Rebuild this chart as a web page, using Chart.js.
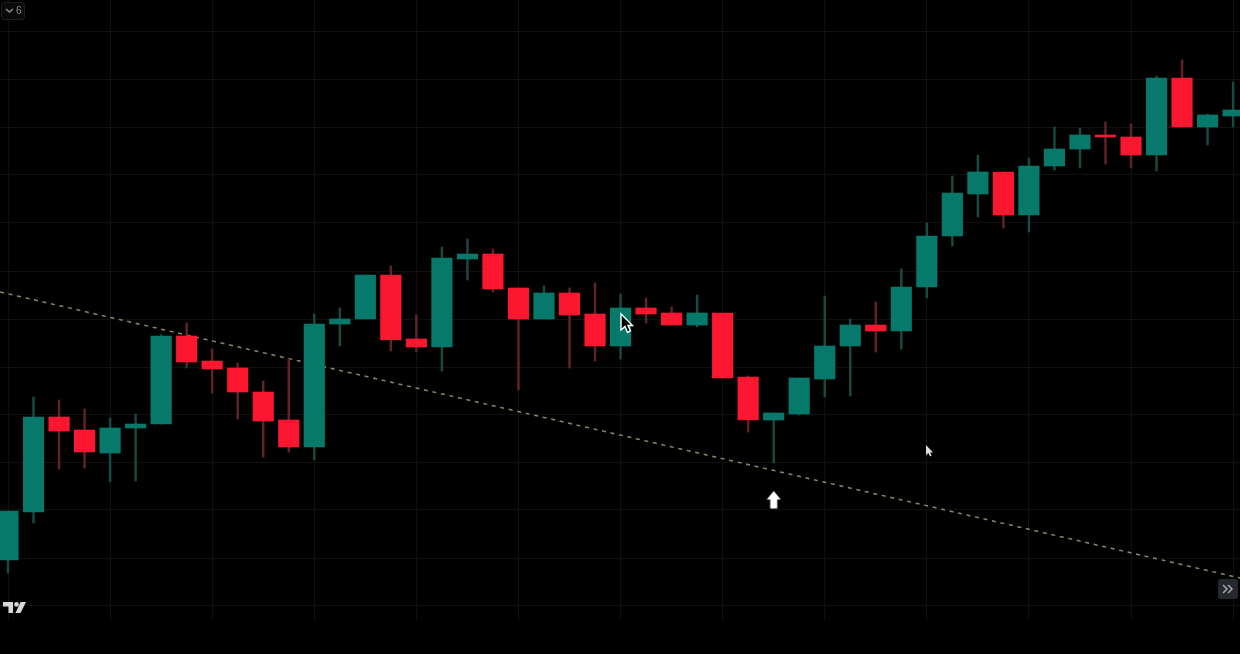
<!DOCTYPE html>
<html>
<head>
<meta charset="utf-8">
<title>Candles</title>
<script src="https://cdn.jsdelivr.net/npm/chart.js@4"></script>
<style>
  html, body { margin: 0; padding: 0; background: #000; width: 1240px; height: 654px; overflow: hidden; }
  #wrap { position: absolute; left: 0; top: 0; width: 1240px; height: 620px; }
  #myChart { display: block; }
  #badge {
    position: absolute; left: 1px; top: 2px; width: 22px; height: 16px; border: 1px solid #1b1d1f;
    border-radius: 3px; color: #8a8d90; font: 10px "Liberation Sans", sans-serif; line-height: 16px; background: #0a0a0b;
  }
  #badge span { position: absolute; left: 14px; top: 0; }
  #badge svg { position: absolute; left: 3px; top: 5px; }
  #more { position: absolute; left: 1218px; top: 579px; width: 20px; height: 20px; border-radius: 3px; background: #25282d; }
  .over { position: absolute; pointer-events: none; }
</style>
</head>
<body>
<div id="wrap"><canvas id="myChart" width="1240" height="620"></canvas></div>

<div id="badge">
  <svg width="9" height="6"><path d="M1 1 L4.5 4 L8 1" stroke="#8a8d90" stroke-width="1.6" fill="none"/></svg>
  <span>6</span>
</div>
<div id="more">
  <svg width="20" height="20"><path d="M5 6 L9 10 L5 14 M10 6 L14 10 L10 14" stroke="#a4a7ab" stroke-width="1.5" fill="none"/></svg>
</div>

<!-- tradingview logo -->
<svg class="over" style="left:2px;top:601px" width="25" height="13">
  <path d="M1 1 H11 V12 H6.5 V5.5 H1 Z" fill="#d8d8d8"/>
  <circle cx="14.5" cy="3.4" r="2.3" fill="#d8d8d8"/>
  <path d="M18.5 1 H24 L18.5 12 H13.5 Z" fill="#d8d8d8"/>
</svg>
<!-- mouse cursors -->
<svg class="over" style="left:619px;top:312px" width="16" height="24">
  <path d="M2 2 V18 L6 14.5 L8.5 20.5 L11.5 19 L9 13.5 H13.5 Z" fill="#000" stroke="#fff" stroke-width="1.4"/>
</svg>
<svg class="over" style="left:924px;top:444px" width="11" height="14">
  <path d="M2 1 V11 L4.5 9 L6 12.5 L7.5 11.5 L6.3 8.5 H9 Z" fill="#ddd"/>
</svg>

<script>
// prices, one entry per candle
var opens  = [94,142,237,224,201,226,230,318,293,286,262,234,207,330,335,379,315,307,395,400,366,335,361,340,308,346,341,329,341,277,234,240,275,308,329,323,367,418,460,482,439,488,505,519,517,499,576,527,538];
var closes = [143,237,223,202,226,230,318,292,285,262,233,207,330,335,379,314,307,396,400,365,335,361,339,308,346,340,329,341,276,234,241,276,308,329,323,367,418,461,482,439,488,505,519,517,499,576,527,539,544];
var highs  = [143,257,254,245,236,240,319,331,305,291,273,295,340,346,379,388,339,407,415,405,366,368,366,371,360,356,347,359,341,278,241,276,358,335,352,385,431,478,499,482,496,527,526,532,530,578,594,540,572];
var lows   = [81,131,185,186,172,173,230,286,261,235,197,202,194,308,335,303,302,283,374,362,264,335,286,293,295,331,329,327,276,222,191,239,257,258,302,305,356,408,437,426,422,484,486,490,486,483,527,509,527];

// dashed trend line, two ends
var trendX = [-0.31, 48.27];
var trendY = [362, 76];

// horizontal grid prices
var gridPrices = [49,96,144,192,240,287,335,383,431,479,527,575,623];

// white arrow under candle 30
var arrowX = [30];
var arrowY = [154];

var upColor = "#07796a";
var downColor = "#fb1730";
var upWick = "#174a43";
var downWick = "#622328";

var bodies = [];
var wicks = [];
var bodyColors = [];
var wickColors = [];
var i;
for (i = 0; i < opens.length; i++) {
  bodies.push({x: i, y: [opens[i], closes[i]]});
  wicks.push({x: i, y: [lows[i], highs[i]]});
  bodyColors.push(closes[i] >= opens[i] ? upColor : downColor);
  wickColors.push(closes[i] >= opens[i] ? upWick : downWick);
}

var trend = [];
for (i = 0; i < trendX.length; i++) {
  trend.push({x: trendX[i], y: trendY[i]});
}

var arrows = [];
for (i = 0; i < arrowX.length; i++) {
  arrows.push({x: arrowX[i], y: arrowY[i]});
}

// arrow picture for the point style
var arrowImg = document.createElement("canvas");
arrowImg.width = 16;
arrowImg.height = 18;
var a = arrowImg.getContext("2d");
a.fillStyle = "#fff";
a.beginPath();
a.moveTo(8, 0); a.lineTo(15, 8.5); a.lineTo(11.5, 8.5); a.lineTo(11.5, 17.5);
a.lineTo(4.5, 17.5); a.lineTo(4.5, 8.5); a.lineTo(1, 8.5);
a.closePath();
a.fill();

var ctx = document.getElementById("myChart");
var myChart = new Chart(ctx, {
  data: {
    datasets: [
      {
        type: "bar", label: "body", data: bodies, order: 1, grouped: false,
        backgroundColor: bodyColors, barThickness: 20.5, borderWidth: 0, borderSkipped: false
      },
      {
        type: "bar", label: "wick", data: wicks, order: 2, grouped: false,
        backgroundColor: wickColors, barThickness: 1.8, borderWidth: 0, borderSkipped: false
      },
      {
        type: "line", label: "trend", data: trend, order: 3,
        borderColor: "#8a8769", borderWidth: 1.5, borderDash: [4, 4.7], pointRadius: 0, fill: false
      },
      {
        type: "scatter", label: "arrow", data: arrows, order: 0,
        pointStyle: arrowImg, pointRadius: 8
      }
    ]
  },
  options: {
    responsive: false,
    animation: false,
    layout: {padding: 0, autoPadding: false},
    plugins: {legend: {display: false}, tooltip: {enabled: false}},
    scales: {
      x: {
        type: "linear", min: -0.3135, max: 48.27, offset: false,
        border: {display: false},
        grid: {color: "#0e1110", lineWidth: 1, offset: false, drawTicks: false},
        ticks: {display: false, stepSize: 4, includeBounds: false, autoSkip: false}
      },
      y: {
        type: "linear", min: 34, max: 654,
        border: {display: false},
        grid: {color: "#0e1110", lineWidth: 1, drawTicks: false},
        ticks: {display: false, autoSkip: false},
        afterBuildTicks: function (axis) {
          axis.ticks = gridPrices.map(function (v) { return {value: v}; });
        }
      }
    }
  }
});
</script>
</body>
</html>
